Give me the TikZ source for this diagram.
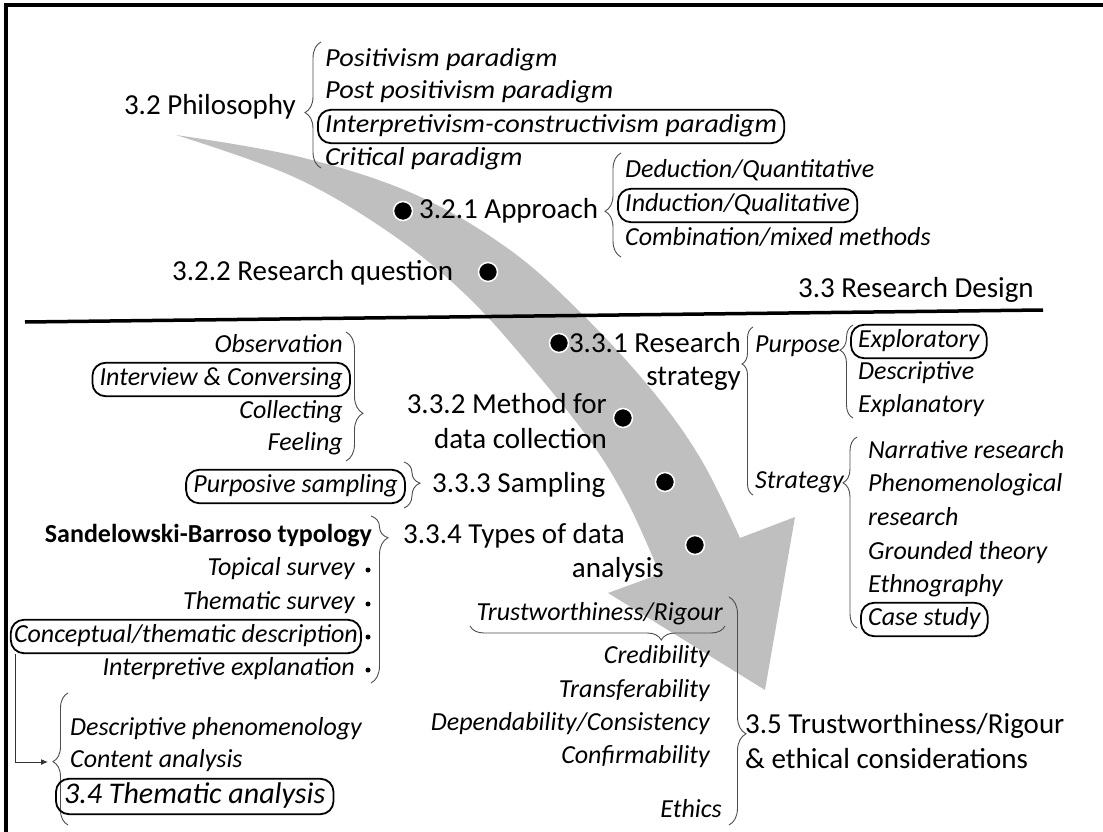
\documentclass[tikz,border=0pt]{standalone}
\usepackage{fontspec}
\setmainfont{Carlito}
\newfontfamily\widefont{Carlito}[FakeStretch=1.09]
\usetikzlibrary{decorations.pathreplacing,calc,arrows.meta,fit}
\begin{document}
\begin{tikzpicture}[x=1pt,y=-1pt,
  rt/.style={font=\fontsize{29}{34}\selectfont, inner sep=0pt, text height=20pt, text depth=6pt},
  it/.style={font=\fontsize{26}{31}\selectfont\itshape, inner sep=0pt, text height=17pt, text depth=6pt},
  wit/.style={font=\widefont\fontsize{26}{31}\selectfont\itshape, inner sep=0pt, text height=17pt, text depth=6pt},
  bt/.style={font=\fontsize{26}{31}\selectfont\bfseries, inner sep=0pt, text height=17pt, text depth=6pt},
  bigit/.style={font=\fontsize{30}{34}\selectfont\itshape, inner sep=0pt, text height=19pt, text depth=6pt},
  hl/.style={draw, line width=1.8pt, rounded corners=13pt, inner xsep=7pt, inner ysep=5pt},
  brc/.style 2 args={decorate, decoration={brace, amplitude=#1, aspect=#2}, draw=black!70, line width=0.9pt},
  dot/.style={circle, fill=black, draw=white, line width=1.5pt, minimum size=19pt, inner sep=0pt},
  sdot/.style={circle, fill=black, minimum size=5pt, inner sep=0pt},
]
\useasboundingbox (0,0) rectangle (1103,832);
% frame
\draw[line width=4pt] (6,832) -- (6,5) -- (1103,5);
% grey curved arrow
\fill[black!25] plot[smooth, tension=0.6] coordinates {(176,135) (300,157) (414,194) (510,250) (586,318) (655,394) (702,461) (740,538)}
  -- (795,517) -- (765,690) -- (608,593)
  -- plot[smooth, tension=0.6] coordinates {(660,574) (628,503) (591,442) (532,368) (466,295) (390,233) (294,177) (176,135)} -- cycle;
% divider
\draw[line width=3.5pt] (25,322) -- (1043,310);

% ---- Philosophy
\node[rt, anchor=base east] (philo) at (296,115) {3.2 Philosophy};
\draw[brc={16pt}{0.44}] (321,168) -- (321,42);
\node[wit, anchor=base west] (p1) at (325,67) {Positivism paradigm};
\node[wit, anchor=base west] (p2) at (325,99) {Post positivism paradigm};
\node[wit, anchor=base west] (p3) at (325,132) {Interpretivism-constructivism paradigm};
\node[wit, anchor=base west] (p4) at (325,165) {Critical paradigm};
\node[hl, fit=(p3)] (p3box) {};

% ---- Approach
\node[dot] (d1) at (403,211) {};
\node[rt, anchor=base west] (appr) at (419,218) {3.2.1 Approach};
\draw[brc={16pt}{0.44}] (621,257) -- (621,153);
\node[it, anchor=base west] (a1) at (625,178) {Deduction/Quantitative};
\node[it, anchor=base west] (a2) at (625,211) {Induction/Qualitative};
\node[it, anchor=base west] (a3) at (625,245) {Combination/mixed methods};
\node[hl, fit=(a2)] (a2box) {};

\node[rt, anchor=base west] (rq) at (172,280) {3.2.2 Research question};
\node[dot] (d2) at (488,272) {};
\node[rt, anchor=base west] (rd) at (798,297) {3.3 Research Design};

% ---- Research strategy
\node[dot] (d3) at (559,343) {};
\node[rt, anchor=base east] (rs1) at (741,352) {3.3.1 Research};
\node[rt, anchor=base east] (rs2) at (741,385) {strategy};
\draw[brc={11pt}{0.78}] (753,495) -- (753,327);
\node[it, anchor=base west] (purp) at (755,352) {Purpose};
\draw[brc={13pt}{0.73}] (853,418) -- (853,325);
\node[it, anchor=base west] (e1) at (858,347) {Exploratory};
\node[hl, fit=(e1)] (e1box) {};
\node[it, anchor=base west] (e2) at (858,379) {Descriptive};
\node[it, anchor=base west] (e3) at (858,412) {Explanatory};
\node[it, anchor=base west] (strat) at (755,488) {Strategy};
\draw[brc={14pt}{0.76}] (857,628) -- (857,437);
\node[it, anchor=base west] (s1) at (868,458) {Narrative research};
\node[it, anchor=base west] (s2) at (868,491) {Phenomenological};
\node[it, anchor=base west] (s3) at (868,525) {research};
\node[it, anchor=base west] (s4) at (868,559) {Grounded theory};
\node[it, anchor=base west] (s5) at (868,592) {Ethnography};
\node[it, anchor=base west] (s6) at (868,625) {Case study};
\node[hl, fit=(s6)] (s6box) {};

% ---- Method for data collection
\node[it, anchor=base east] (m1) at (343,352) {Observation};
\node[it, anchor=base east] (m2) at (343,385) {Interview \& Conversing};
\node[hl, fit=(m2)] (m2box) {};
\node[it, anchor=base east] (m3) at (343,418) {Collecting};
\node[it, anchor=base east] (m4) at (343,450) {Feeling};
\draw[brc={17pt}{0.63}] (346,332) -- (346,461);
\node[rt, anchor=base east] (mdc1) at (607,413) {3.3.2 Method for};
\node[rt, anchor=base east] (mdc2) at (607,448) {data collection};
\node[dot] (d4) at (623,418) {};

% ---- Sampling
\node[it, anchor=base east] (ps) at (398,492) {Purposive sampling};
\node[hl, fit=(ps)] (psbox) {};
\draw[brc={16pt}{0.46}] (404,462) -- (404,508);
\node[rt, anchor=base west] (samp) at (432,492) {3.3.3 Sampling};
\node[dot] (d5) at (665,482) {};

% ---- Types of data analysis
\node[bt, anchor=base east] (typ) at (372,542) {Sandelowski-Barroso typology};
\draw[brc={17pt}{0.13}] (371,516) -- (371,683);
\node[rt, anchor=base west] (tda1) at (403,543) {3.3.4 Types of data};
\node[rt, anchor=base east] (tda2) at (664,577) {analysis};
\node[dot] (d6) at (695,545) {};
\node[it, anchor=base east] (t1) at (355,575) {Topical survey};
\node[it, anchor=base east] (t2) at (355,609) {Thematic survey};
\node[it, anchor=base east] (t3) at (358,642) {Conceptual/thematic description};
\node[hl, inner xsep=3pt, fit=(t3)] (t3box) {};
\node[it, anchor=base east] (t4) at (355,675) {Interpretive explanation};
\node[sdot] (t1d) at (368,570) {};
\node[sdot] (t2d) at (368,604) {};
\node[sdot] (t3d) at (368,637) {};
\node[sdot] (t4d) at (368,670) {};

% ---- Thematic analysis
\draw[brc={15pt}{0.48}] (68,825) -- (68,693);
\coordinate (thtip) at (53,762);
\node[it, anchor=base west] (th1) at (70,735) {Descriptive phenomenology};
\node[it, anchor=base west] (th2) at (70,767) {Content analysis};
\node[bigit, anchor=base west] (th3) at (64,803) {3.4 Thematic analysis};
\node[hl, inner xsep=8pt, fit=(th3)] (th3box) {};
\draw[-{Latex[length=7pt,width=6pt]}, line width=1pt, black!80] ([xshift=6pt]t3box.south west) |- ([xshift=-5pt]thtip);

% ---- Trustworthiness
\node[it, anchor=base east] (tw) at (723,620) {Trustworthiness/Rigour};
\draw[brc={14pt}{0.25}] (725,626) -- (470,626);
\node[it, anchor=base east] (c1) at (710,663) {Credibility};
\node[it, anchor=base east] (c2) at (710,697) {Transferability};
\node[it, anchor=base east] (c3) at (710,730) {Dependability/Consistency};
\node[it, anchor=base east] (c4) at (710,763) {Confirmability};
\node[it, anchor=base east] (c5) at (722,817) {Ethics};
\draw[brc={17pt}{0.6}] (729,597) -- (729,825);
\node[rt, anchor=base west] (tr1) at (745,733) {3.5 Trustworthiness/Rigour};
\node[rt, anchor=base west] (tr2) at (745,768) {\& ethical considerations};
\end{tikzpicture}
\end{document}
